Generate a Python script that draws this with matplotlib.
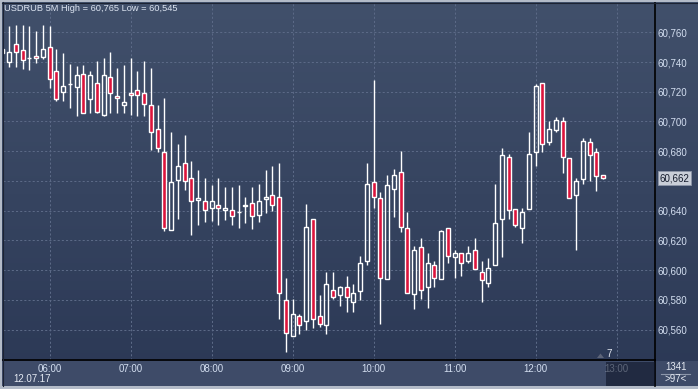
import numpy as np
import pandas as pd
import matplotlib
matplotlib.use("Agg")
import matplotlib.pyplot as plt
import matplotlib.dates as mdates
from matplotlib.transforms import blended_transform_factory
from matplotlib.patches import Rectangle, Polygon
from matplotlib.lines import Line2D

plt.rcParams['font.family'] = ['Liberation Sans', 'DejaVu Sans']

# USDRUB 5M candles, 12.07.17, from 05:25
opens = [60.7485, 60.7402, 60.7521, 60.7479, 60.7425, 60.7438, 60.7436, 60.7499, 60.7337, 60.7196,
         60.7250, 60.7234, 60.7317, 60.7153, 60.7257, 60.7045, 60.7297, 60.7169, 60.7108, 60.7189,
         60.7209, 60.7189, 60.7108, 60.6947, 60.6792, 60.6273, 60.6608, 60.6718, 60.6617, 60.6469,
         60.6464, 60.6421, 60.6439, 60.6406, 60.6401, 60.6388, 60.6439, 60.6448, 60.6368, 60.6480,
         60.6502, 60.6489, 60.5802, 60.5559, 60.5694, 60.5660, 60.6341, 60.5694, 60.5633, 60.5869,
         60.5829, 60.5889, 60.5788, 60.5862, 60.6058, 60.6590, 60.6482, 60.5943, 60.6547, 60.6657,
         60.6280, 60.5842, 60.6152, 60.5889, 60.6031, 60.5943, 60.6280, 60.6091, 60.6112, 60.6058,
         60.6132, 60.5990, 60.5910, 60.6035, 60.6341, 60.6758, 60.6408, 60.6280, 60.6408, 60.6792,
         60.7257, 60.6859, 60.6940, 60.7001, 60.6751, 60.6502, 60.6610, 60.6859, 60.6792, 60.6637]
highs = [60.7490, 60.7643, 60.7649, 60.7649, 60.7643, 60.7607, 60.7649, 60.7643, 60.7488, 60.7461,
         60.7387, 60.7371, 60.7378, 60.7340, 60.7407, 60.7427, 60.7468, 60.7360, 60.7380, 60.7427,
         60.7340, 60.7407, 60.7360, 60.7108, 60.7155, 60.6929, 60.6848, 60.6909, 60.6731, 60.6673,
         60.6619, 60.6570, 60.6617, 60.6558, 60.6558, 60.6572, 60.6491, 60.6558, 60.6579, 60.6671,
         60.6700, 60.6720, 60.5950, 60.5804, 60.5707, 60.6444, 60.6341, 60.5831, 60.5984, 60.5990,
         60.5894, 60.5963, 60.5903, 60.6094, 60.6718, 60.7279, 60.6527, 60.6637, 60.6680, 60.6801,
         60.6390, 60.6159, 60.6215, 60.6118, 60.6058, 60.6273, 60.6280, 60.6138, 60.6112, 60.6159,
         60.6215, 60.6058, 60.6078, 60.6576, 60.6819, 60.6778, 60.6408, 60.6421, 60.6927, 60.7250,
         60.7257, 60.7001, 60.7028, 60.7028, 60.6751, 60.6617, 60.6886, 60.6886, 60.6819, 60.6637]
lows = [60.7455, 60.7367, 60.7367, 60.7353, 60.7349, 60.7393, 60.7423, 60.7225, 60.7135, 60.7135,
        60.7090, 60.7039, 60.7055, 60.7057, 60.7057, 60.7039, 60.7057, 60.7057, 60.7057, 60.7045,
        60.7039, 60.7039, 60.6810, 60.6792, 60.6260, 60.6273, 60.6345, 60.6540, 60.6237, 60.6305,
        60.6323, 60.6327, 60.6305, 60.6338, 60.6305, 60.6285, 60.6320, 60.6278, 60.6325, 60.6385,
        60.6399, 60.5672, 60.5452, 60.5559, 60.5571, 60.5597, 60.5613, 60.5620, 60.5573, 60.5806,
        60.5761, 60.5721, 60.5721, 60.5800, 60.6035, 60.6419, 60.5638, 60.5943, 60.6359, 60.6253,
        60.5849, 60.5739, 60.5806, 60.5748, 60.5889, 60.5943, 60.6051, 60.5950, 60.5963, 60.6051,
        60.6004, 60.5788, 60.5883, 60.6031, 60.6091, 60.6347, 60.6287, 60.6179, 60.6408, 60.6697,
        60.6792, 60.6839, 60.6927, 60.6650, 60.6482, 60.6138, 60.6576, 60.6597, 60.6529, 60.6610]
closes = [60.7460, 60.7468, 60.7465, 60.7416, 60.7425, 60.7425, 60.7486, 60.7288, 60.7153, 60.7236,
          60.7250, 60.7313, 60.7059, 60.7310, 60.7066, 60.7310, 60.7194, 60.7155, 60.7129, 60.7176,
          60.7176, 60.7115, 60.6926, 60.6819, 60.6280, 60.6590, 60.6700, 60.6597, 60.6462, 60.6482,
          60.6406, 60.6466, 60.6421, 60.6419, 60.6361, 60.6388, 60.6428, 60.6361, 60.6462, 60.6489,
          60.6441, 60.5849, 60.5580, 60.5703, 60.5633, 60.6287, 60.5674, 60.5640, 60.5903, 60.5822,
          60.5883, 60.5822, 60.5849, 60.6051, 60.6576, 60.6489, 60.5950, 60.6570, 60.6637, 60.6287,
          60.5849, 60.6132, 60.5869, 60.6051, 60.5950, 60.6260, 60.6098, 60.6118, 60.6051, 60.6118,
          60.6010, 60.5930, 60.6017, 60.6320, 60.6772, 60.6401, 60.6300, 60.6388, 60.6778, 60.7236,
          60.6846, 60.6947, 60.7007, 60.6758, 60.6487, 60.6597, 60.6866, 60.6772, 60.6630, 60.6617]

ytick_values = [60.56, 60.58, 60.60, 60.62, 60.64, 60.66, 60.68, 60.70, 60.72, 60.74, 60.76]

W, H = 698, 389
fig = plt.figure(figsize=(W / 100, H / 100), dpi=100)
fig.patch.set_facecolor('#b3bbc8')

def fx(px):
    return px / W

def fy(py):
    return 1 - py / H

# background gradient
bg = fig.add_axes([fx(2), fy(386), fx(696), (386 - 2) / H])
bg.set_zorder(-10)
top = np.array([65, 80, 107]) / 255
bot = np.array([43, 56, 85]) / 255
t = np.linspace(0, 1, 256)[:, None, None]
grad = top * (1 - t) + bot * t
bg.imshow(grad, aspect='auto', extent=[0, 1, 0, 1])
bg.axis('off')

# time axis strip
fig.add_artist(Rectangle((fx(2), fy(386)), 1, (386 - 360.5) / H, transform=fig.transFigure,
                         facecolor='#3e4b68', edgecolor='none', zorder=-5))

times = pd.date_range('2017-07-12 05:25', periods=len(opens), freq='5min')
x = mdates.date2num(times)
step = 5 / 1440.0

ax = fig.add_axes([fx(3), fy(360), fx(652), (360 - 3) / H])
ax.set_facecolor('none')

o = np.array(opens)
c = np.array(closes)
hi = np.array(highs)
lo = np.array(lows)
up = c >= o
body_top = np.maximum(o, c)
body_bot = np.minimum(o, c)

ax.vlines(x, body_top, hi, color='white', lw=1, zorder=3)
ax.vlines(x, lo, body_bot, color='white', lw=1, zorder=3)
ax.bar(x[up], body_top[up] - body_bot[up], bottom=body_bot[up], width=step * 0.6,
       facecolor='none', edgecolor='white', lw=1, zorder=4)
ax.bar(x[~up], body_top[~up] - body_bot[~up], bottom=body_bot[~up], width=step * 0.6,
       facecolor='#dc143c', edgecolor='white', lw=1, zorder=4)

ax.set_xlim(x[0] + 0.1 * step, x[0] + 96.7 * step)
ax.set_ylim(60.5395, 60.7797)

last = f'{closes[-1]:.3f}'.replace('.', ',')
ax.xaxis.set_major_locator(mdates.HourLocator())
ax.xaxis.set_major_formatter(mdates.DateFormatter('%H:%M'))
ax.set_yticks(ytick_values)
# the tick label under the current price marker is hidden by it
ylabels = [f'{v:.3f}'.replace('.', ',') for v in ytick_values]
ylabels = ['' if abs(v - closes[-1]) < 0.004 else s for v, s in zip(ytick_values, ylabels)]
ax.set_yticklabels(ylabels)
ax.yaxis.tick_right()
ax.tick_params(axis='both', length=0, labelsize=7, colors='#d3def0')
ax.tick_params(axis='x', pad=3)
ax.tick_params(axis='y', pad=2)
ax.grid(True, color='#5b6986', lw=0.75, linestyle=(0, (2, 2)))
for s in ['top', 'left']:
    ax.spines[s].set_visible(False)
ax.spines['bottom'].set_color('black')
ax.spines['right'].set_color('black')
ax.spines['bottom'].set_linewidth(1.2)
ax.spines['right'].set_linewidth(1.2)

# frame lines
fig.add_artist(Line2D([fx(2), 1], [fy(2.5), fy(2.5)], color='#1c2333', lw=0.8))
fig.add_artist(Line2D([fx(2.5), fx(2.5)], [fy(2), fy(386)], color='#1c2333', lw=0.8))
fig.add_artist(Line2D([fx(655), fx(655)], [fy(360), fy(386)], color='black', lw=1.2))

# title
fig.text(fx(4), fy(8.5), f'USDRUB 5M High = {max(highs):.3f} Low = {min(lows):.3f}'.replace('.', ','),
         color='#dde5f2', fontsize=6.7, va='center', ha='left')
fig.text(fx(13), fy(379.5), '12.07.17', color='#e4e9f2', fontsize=7, va='center', ha='left')

# current price marker
tr = blended_transform_factory(ax.transAxes, ax.transData)
ax.text(1.007, closes[-1], last, transform=tr, fontsize=7,
        color='#141b2c', va='center', ha='left', clip_on=False, zorder=10,
        bbox=dict(boxstyle='square,pad=0.2', facecolor='#c9ced8', edgecolor='#8d96a8', lw=0.6))

# current time box
fig.add_artist(Rectangle((fx(606), fy(386)), fx(49), (386 - 361.5) / H, transform=fig.transFigure,
                         facecolor='#0e1528', edgecolor='none', alpha=0.6, zorder=2))
fig.add_artist(Polygon([[fx(597), fy(358)], [fx(604), fy(358)], [fx(600.5), fy(353.5)]],
                       closed=True, transform=fig.transFigure, facecolor='#5c6478', edgecolor='none', zorder=2))
fig.text(fx(609), fy(354), '7', color='#e4e9f2', fontsize=7, va='center', ha='center')

# bottom right counter
fig.text(fx(676), fy(367), '1341', color='#e4e9f2', fontsize=7, va='center', ha='center')
fig.add_artist(Line2D([fx(661), fx(690)], [fy(373.5), fy(373.5)], color='#8c96aa', lw=0.8))
fig.text(fx(676), fy(379.5), '>97<', color='#e4e9f2', fontsize=7, va='center', ha='center')

plt.savefig('out.png', dpi=100)
